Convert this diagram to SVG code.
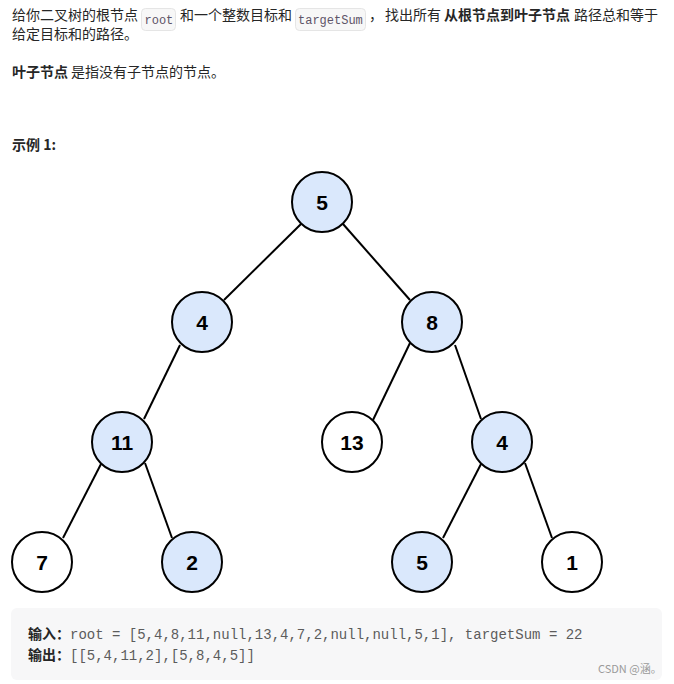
<svg xmlns="http://www.w3.org/2000/svg" width="674" height="684" viewBox="0 0 674 684">
<style>
.t{font-family:"Noto Sans CJK SC","Liberation Sans",sans-serif;font-size:14px;fill:#262626}
.b{font-weight:bold}
.c{font-family:"Liberation Mono","DejaVu Sans Mono",monospace;font-size:12px;fill:#5e5468}
.m{font-family:"Liberation Mono","DejaVu Sans Mono",monospace;font-size:14px;fill:#5c5c5c}
.chip{fill:#f7f7f7;stroke:#e5e5e5;stroke-width:1}
.n circle{stroke:#000;stroke-width:2}
.blue{fill:#dae8fc}
.white{fill:#fff}
.n text{font-family:"Liberation Sans",Arial,sans-serif;font-size:21px;font-weight:bold;fill:#000;text-anchor:middle}
.e line{stroke:#000;stroke-width:2}
</style>
<rect width="674" height="684" fill="#fff"/>
<g id="intro">
<text class="t" x="12" y="20">给你二叉树的根节点</text>
<rect class="chip" x="141.5" y="8.5" width="34" height="22" rx="4"/>
<text class="c" x="144.5" y="24">root</text>
<text class="t" x="180" y="20">和一个整数目标和</text>
<rect class="chip" x="295.5" y="8.5" width="70" height="22" rx="4"/>
<text class="c" x="298" y="24">targetSum</text>
<text class="t" x="369" y="20">，</text>
<text class="t" x="385" y="20">找出所有</text>
<text class="t b" x="444" y="20">从根节点到叶子节点</text>
<text class="t" x="574" y="20">路径总和等于</text>
<text class="t" x="12" y="39">给定目标和的路径。</text>
<text class="t b" x="12" y="77">叶子节点</text>
<text class="t" x="71" y="77">是指没有子节点的节点。</text>
<text class="t b" x="12" y="150">示例 1:</text>
</g>
<g class="e" id="connectors">
<line x1="301" y1="224" x2="224" y2="300"/>
<line x1="343" y1="224" x2="410" y2="300"/>
<line x1="180" y1="345" x2="144" y2="419"/>
<line x1="410" y1="343" x2="373" y2="420"/>
<line x1="455" y1="345" x2="481" y2="419"/>
<line x1="101" y1="464" x2="63" y2="538"/>
<line x1="145" y1="463" x2="172" y2="538"/>
<line x1="481" y1="464" x2="443" y2="538"/>
<line x1="525" y1="463" x2="552" y2="538"/>
</g>
<g class="n" id="n5"><circle class="blue" cx="322" cy="202" r="30"/><text x="322" y="210">5</text></g>
<g class="n" id="n4a"><circle class="blue" cx="202" cy="322" r="30"/><text x="202" y="330">4</text></g>
<g class="n" id="n8"><circle class="blue" cx="432" cy="322" r="30"/><text x="432" y="330">8</text></g>
<g class="n" id="n11"><circle class="blue" cx="122" cy="442" r="30"/><text x="122" y="450">11</text></g>
<g class="n" id="n13"><circle class="white" cx="352" cy="442" r="30"/><text x="352" y="450">13</text></g>
<g class="n" id="n4b"><circle class="blue" cx="502" cy="442" r="30"/><text x="502" y="450">4</text></g>
<g class="n" id="n7"><circle class="white" cx="42" cy="562" r="30"/><text x="42" y="570">7</text></g>
<g class="n" id="n2"><circle class="blue" cx="192" cy="562" r="30"/><text x="192" y="570">2</text></g>
<g class="n" id="n5b"><circle class="blue" cx="422" cy="562" r="30"/><text x="422" y="570">5</text></g>
<g class="n" id="n1"><circle class="white" cx="572" cy="562" r="30"/><text x="572" y="570">1</text></g>
<g id="example">
<rect x="11" y="608" width="651" height="72" rx="6" fill="#f7f7f8"/>
<text class="t b" x="28" y="639">输入：</text>
<text class="m" x="70" y="639">root = [5,4,8,11,null,13,4,7,2,null,null,5,1], targetSum = 22</text>
<text class="t b" x="28" y="660">输出：</text>
<text class="m" x="70" y="660">[[5,4,11,2],[5,8,4,5]]</text>
<text class="t" x="598" y="673" style="font-size:11px;fill:#9a9a9a">CSDN @涵。</text>
</g>
</svg>
